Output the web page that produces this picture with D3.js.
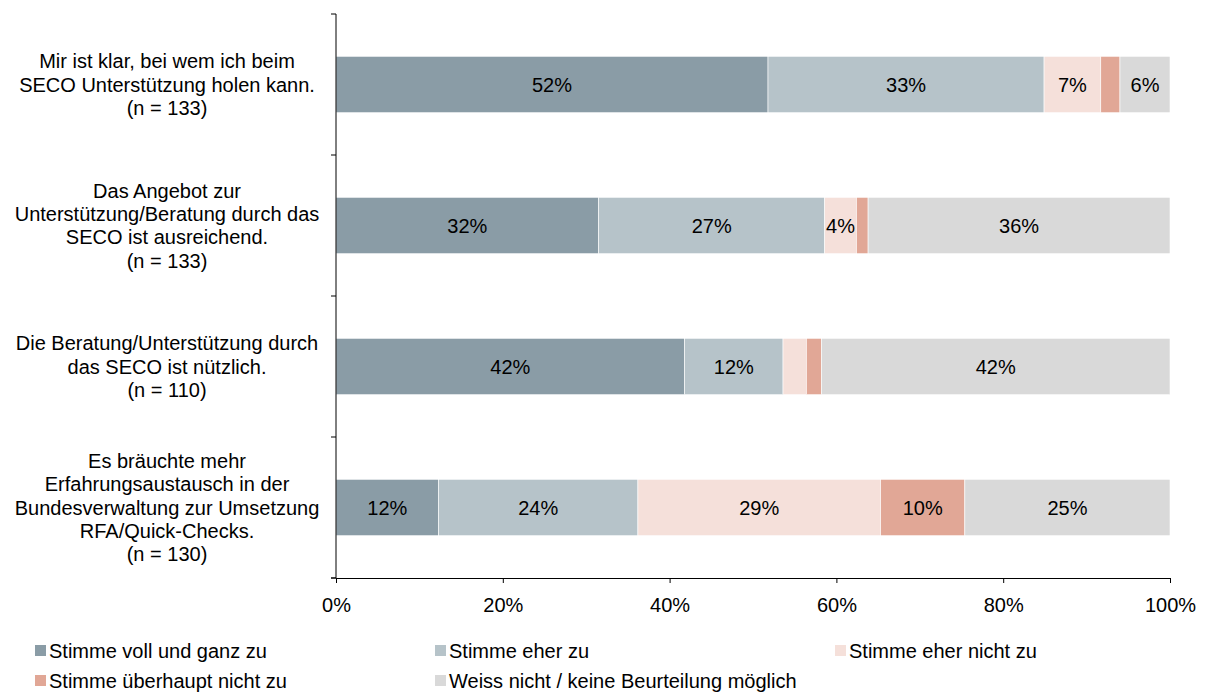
<!DOCTYPE html>
<html>
<head>
<meta charset="utf-8">
<script src="https://cdn.jsdelivr.net/npm/d3@7"></script>
<style>
  body { margin: 0; background: #fff; }
  text { font-family: "Liberation Sans", Arial, sans-serif; fill: #000; }
</style>
</head>
<body>
<svg id="chart" width="1206" height="693"></svg>
<script>
// Categories (each one a list of label lines)
var categories = [
  ["Mir ist klar, bei wem ich beim", "SECO Unterstützung holen kann.", "(n = 133)"],
  ["Das Angebot zur", "Unterstützung/Beratung durch das", "SECO ist ausreichend.", "(n = 133)"],
  ["Die Beratung/Unterstützung durch", "das SECO ist nützlich.", "(n = 110)"],
  ["Es bräuchte mehr", "Erfahrungsaustausch in der", "Bundesverwaltung zur Umsetzung", "RFA/Quick-Checks.", "(n = 130)"]
];

var seriesNames = [
  "Stimme voll und ganz zu",
  "Stimme eher zu",
  "Stimme eher nicht zu",
  "Stimme überhaupt nicht zu",
  "Weiss nicht / keine Beurteilung möglich"
];

// Percentages per series, one value per category (top to bottom)
var vollUndGanz = [51.8, 31.5, 41.8, 12.3];
var eherZu      = [33.1, 27.1, 11.8, 23.9];
var eherNicht   = [6.8, 3.8, 2.8, 29.1];
var ueberhaupt  = [2.3, 1.4, 1.8, 10.1];
var weissNicht  = [6.0, 36.2, 41.8, 24.6];

var xTicks = [0, 20, 40, 60, 80, 100];

var colors = ["#8a9ca6", "#b6c3c9", "#f5e0da", "#e1a796", "#d9d9d9"];

var fontSize = "20px";

var svg = d3.select("svg"),
    width = +svg.attr("width"),
    height = +svg.attr("height");

var margin = {left: 336, right: 36, top: 14, bottom: 115};

var x = d3.scaleLinear()
    .domain([0, 100])
    .range([margin.left, width - margin.right]);

var y = d3.scaleBand()
    .domain(d3.range(categories.length))
    .range([margin.top, height - margin.bottom])
    .paddingInner(0.6)
    .paddingOuter(0.3);

// Build the stacked table from the named arrays
var table = categories.map(function(c, i) {
  return {i: i, s0: vollUndGanz[i], s1: eherZu[i], s2: eherNicht[i], s3: ueberhaupt[i], s4: weissNicht[i]};
});
var keys = ["s0", "s1", "s2", "s3", "s4"];
var stacked = d3.stack().keys(keys)(table);

var layers = svg.append("g")
  .selectAll("g")
  .data(stacked)
  .enter().append("g")
    .attr("fill", function(d, k) { return colors[k]; });

layers.selectAll("rect")
  .data(function(d) { return d; })
  .enter().append("rect")
    .attr("x", function(d) { return x(d[0]); })
    .attr("y", function(d) { return y(d.data.i); })
    .attr("width", function(d) { return x(d[1]) - x(d[0]); })
    .attr("height", y.bandwidth())
    .attr("stroke", "#fff")
    .attr("stroke-width", 0.6);

// Value labels, only for segments wide enough
layers.selectAll("text")
  .data(function(d) { return d.filter(function(v) { return v[1] - v[0] >= 3.5; }); })
  .enter().append("text")
    .attr("x", function(d) { return (x(d[0]) + x(d[1])) / 2; })
    .attr("y", function(d) { return y(d.data.i) + y.bandwidth() / 2; })
    .attr("dy", "0.36em")
    .attr("text-anchor", "middle")
    .style("font-size", fontSize)
    .text(function(d) { return Math.round(d[1] - d[0]) + "%"; });

// Y axis line with ticks between the categories
var step = (height - margin.bottom - margin.top) / categories.length;
var yAxis = svg.append("g");
yAxis.append("line")
    .attr("x1", x(0)).attr("x2", x(0))
    .attr("y1", margin.top).attr("y2", height - margin.bottom)
    .attr("stroke", "#000").attr("stroke-width", 1);
yAxis.selectAll(".tk")
  .data(d3.range(categories.length + 1))
  .enter().append("line")
    .attr("x1", x(0) - 5).attr("x2", x(0))
    .attr("y1", function(d) { return margin.top + d * step; })
    .attr("y2", function(d) { return margin.top + d * step; })
    .attr("stroke", "#000");

// Category labels, centred in the left margin
var labels = svg.append("g").selectAll("text")
  .data(categories)
  .enter().append("text")
    .attr("text-anchor", "middle")
    .style("font-size", fontSize)
    .attr("transform", function(d, i) {
      var cy = y(i) + y.bandwidth() / 2;
      return "translate(167," + (cy - (d.length - 1) * 23.3 / 2) + ")";
    });
labels.selectAll("tspan")
  .data(function(d) { return d; })
  .enter().append("tspan")
    .attr("x", 0)
    .attr("y", function(d, j) { return j * 23.3; })
    .attr("dy", "0.36em")
    .text(function(d) { return d; });

// X axis
var xAxis = svg.append("g")
    .attr("transform", "translate(0," + (height - margin.bottom) + ")")
    .call(d3.axisBottom(x)
      .tickValues(xTicks)
      .tickSizeInner(5)
      .tickSizeOuter(0)
      .tickFormat(function(d) { return d + "%"; }));
xAxis.select(".domain").attr("stroke", "#000");
xAxis.selectAll("text")
    .attr("dy", "0.71em")
    .attr("y", 20)
    .style("font-size", fontSize)
    .style("font-family", "'Liberation Sans', Arial, sans-serif");
xAxis.selectAll(".tick line").attr("stroke", "#000");
xAxis.append("line")
    .attr("x1", x(0) - 5).attr("x2", x(0))
    .attr("stroke", "#000");

// Legend
var legend = svg.append("g").selectAll("g")
  .data(seriesNames)
  .enter().append("g")
    .attr("transform", function(d, i) {
      return "translate(" + (35 + (i % 3) * 400) + "," + (651 + Math.floor(i / 3) * 30) + ")";
    });
legend.append("rect")
    .attr("x", 0).attr("y", -6)
    .attr("width", 11).attr("height", 11)
    .attr("fill", function(d, i) { return colors[i]; });
legend.append("text")
    .attr("x", 14)
    .attr("dy", "0.36em")
    .style("font-size", fontSize)
    .text(function(d) { return d; });
</script>
</body>
</html>
